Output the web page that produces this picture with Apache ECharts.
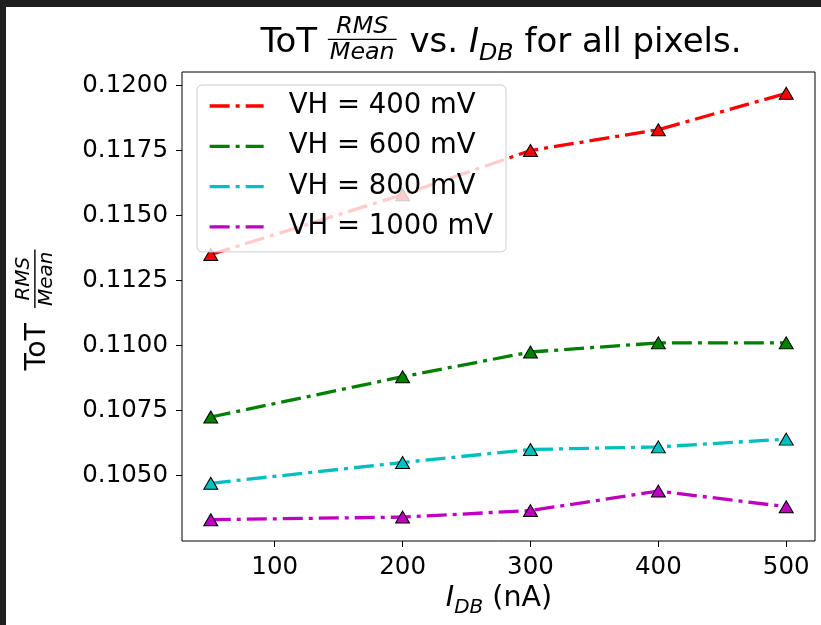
<!DOCTYPE html>
<html><head><meta charset="utf-8">
<script src="https://cdn.jsdelivr.net/npm/echarts@6/dist/echarts.min.js"></script>
<style>html,body{margin:0;padding:0;background:#fff}#c{width:821px;height:625px}</style>
</head><body><div id="c"></div>
<script>
// ---- data ----
const xValues = [50, 200, 300, 400, 500];
const seriesNames = ['VH = 400 mV', 'VH = 600 mV', 'VH = 800 mV', 'VH = 1000 mV'];
const vh400 = [0.1135, 0.1158, 0.1175, 0.1183, 0.1197];
const vh600 = [0.10725, 0.1088, 0.10975, 0.1101, 0.1101];
const vh800 = [0.1047, 0.1055, 0.1060, 0.1061, 0.1064];
const vh1000 = [0.1033, 0.1034, 0.10365, 0.1044, 0.1038];
const xTicks = [100, 200, 300, 400, 500];
const yTicks = [0.1050, 0.1075, 0.1100, 0.1125, 0.1150, 0.1175, 0.1200];
const colors = ['#ff0000', '#008000', '#00bfbf', '#bf00bf'];

const allSeries = [vh400, vh600, vh800, vh1000];
const FONT = 'DejaVu Sans';
const TICK_FS = 24.5;
const LEGEND_FS = 27.5;
const LABEL_FS = 28.5;
const TITLE_FS = 34;

// matplotlib-like 5% margins
const xMinD = Math.min(...xValues), xMaxD = Math.max(...xValues);
const xPad = (xMaxD - xMinD) * 0.05;
const allY = [].concat(...allSeries);
const yMinD = Math.min(...allY), yMaxD = Math.max(...allY);
const yPad = (yMaxD - yMinD) * 0.05;

// ---- text measurement for math-like labels ----
const mctx = document.createElement('canvas').getContext('2d');
function fontStr(size, italic) { return (italic ? 'italic ' : '') + size + 'px "' + FONT + '"'; }
function tw(t, size, italic) { mctx.font = fontStr(size, italic); return mctx.measureText(t).width; }

function mathLabel(parts, fs, fracGap) {
  const els = [];
  let x = 0;
  const mid = -0.35 * fs;
  const sfs = fs * 0.7;
  parts.forEach(p => {
    if (p.frac) {
      x += (fracGap || 0);
      const wn = tw(p.num, sfs, true), wd = tw(p.den, sfs, true);
      const w = Math.max(wn, wd) + 4;
      const barY = -0.46 * fs;
      els.push({type: 'rect', shape: {x: x, y: barY - 0.7, width: w, height: 1.4}, style: {fill: '#000'}});
      els.push({type: 'text', x: x + w / 2, y: barY - 3 - 0.4 * sfs, style: {text: p.num, font: fontStr(sfs, true), fill: '#000', align: 'center', verticalAlign: 'middle'}});
      els.push({type: 'text', x: x + w / 2, y: barY + 3 + 0.43 * sfs, style: {text: p.den, font: fontStr(sfs, true), fill: '#000', align: 'center', verticalAlign: 'middle'}});
      x += w + 2;
    } else if (p.sub) {
      els.push({type: 'text', x: x, y: 0.22 * fs - 0.35 * sfs, style: {text: p.t, font: fontStr(sfs, true), fill: '#000', align: 'left', verticalAlign: 'middle'}});
      x += tw(p.t, sfs, true);
    } else {
      els.push({type: 'text', x: x, y: mid, style: {text: p.t, font: fontStr(fs, !!p.it), fill: '#000', align: 'left', verticalAlign: 'middle'}});
      x += tw(p.t, fs, !!p.it);
    }
  });
  els.forEach(e => { if (e.type === 'rect') e.shape.x -= x / 2; else e.x -= x / 2; });
  return els;
}

const titleEls = mathLabel([
  {t: 'ToT '}, {frac: true, num: 'RMS', den: 'Mean'}, {t: ' vs. '}, {t: 'I', it: true}, {t: 'DB', sub: true}, {t: ' for all pixels.'}
], TITLE_FS, 0);
const yNameEls = mathLabel([{t: 'ToT '}, {frac: true, num: 'RMS', den: 'Mean'}], LABEL_FS, 6);
const xNameEls = mathLabel([{t: 'I', it: true}, {t: 'DB', sub: true}, {t: ' (nA)'}], LABEL_FS, 0);

const chart = echarts.init(document.getElementById('c'), null, {renderer: 'canvas'});
chart.setOption({
  animation: false,
  backgroundColor: '#ffffff',
  grid: {left: 182, top: 72, right: 6, bottom: 84, show: true, borderColor: '#000', borderWidth: 1, backgroundColor: 'transparent'},
  xAxis: {
    type: 'value', min: xMinD - xPad, max: xMaxD + xPad,
    axisLine: {show: false},
    splitLine: {show: false},
    axisTick: {show: true, length: 6, lineStyle: {color: '#000', width: 1}, customValues: xTicks},
    axisLabel: {customValues: xTicks, fontFamily: FONT, fontSize: TICK_FS, color: '#000', margin: 14}
  },
  yAxis: {
    type: 'value', min: yMinD - yPad, max: yMaxD + yPad,
    axisLine: {show: false},
    splitLine: {show: false},
    axisTick: {show: true, length: 6, lineStyle: {color: '#000', width: 1}, customValues: yTicks},
    axisLabel: {customValues: yTicks, fontFamily: FONT, fontSize: TICK_FS, color: '#000', margin: 14,
      formatter: v => v.toFixed(4)}
  },
  legend: {
    orient: 'vertical', left: 197, top: 85,
    padding: [6, 13, 10, 11],
    itemGap: 10.3, itemWidth: 54, itemHeight: 14,
    backgroundColor: 'rgba(255,255,255,0.8)', borderColor: '#cccccc', borderWidth: 1, borderRadius: 5,
    itemStyle: {opacity: 0},
    lineStyle: {width: 3.3},
    textStyle: {fontFamily: FONT, fontSize: LEGEND_FS, color: '#000', lineHeight: 30, padding: [0, 0, 0, 20]},
    data: seriesNames
  },
  series: allSeries.map((vals, i) => ({
    name: seriesNames[i], type: 'line',
    data: xValues.map((x, j) => [x, vals[j]]),
    symbol: 'triangle', symbolSize: [14, 12],
    itemStyle: {color: colors[i], borderColor: '#000', borderWidth: 1},
    lineStyle: {color: colors[i], width: 3.3, type: [20, 6, 4, 6]},
    z: 2
  })),
  graphic: [
    {type: 'rect', shape: {x: 0, y: 0, width: 821, height: 7}, style: {fill: '#1f1f1f'}, z: 100},
    {type: 'rect', shape: {x: 0, y: 0, width: 6, height: 625}, style: {fill: '#1f1f1f'}, z: 100},
    {type: 'group', x: 501, y: 55, children: titleEls},
    {type: 'group', x: 499, y: 609, children: xNameEls},
    {type: 'group', x: 48, y: 309, rotation: Math.PI / 2, children: yNameEls}
  ]
});
</script>
</body></html>
